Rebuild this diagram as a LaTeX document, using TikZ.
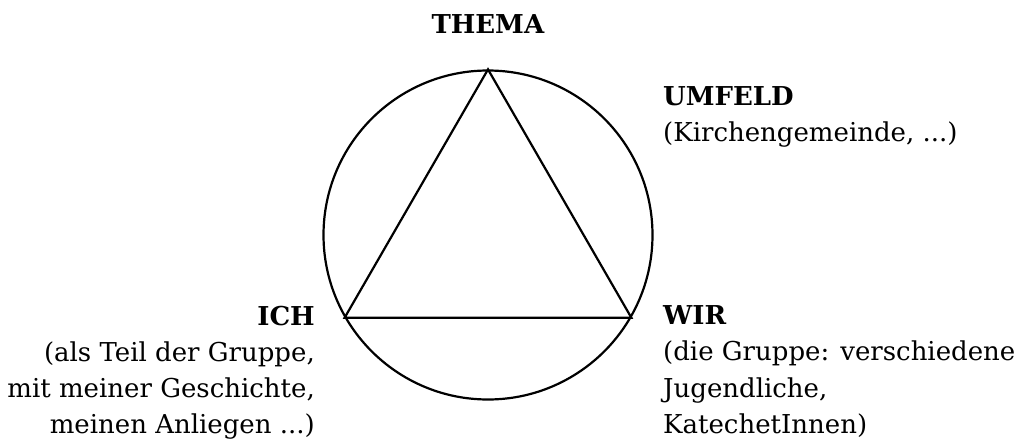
\documentclass[tikz,border=0pt]{standalone}
\usepackage{fontspec}
\setmainfont{DejaVu Serif}
\begin{document}
\begin{tikzpicture}[x=1pt,y=-1pt,
  lbl/.style={inner sep=0pt,font=\fontsize{26}{36.3}\selectfont},
  shape line/.style={line width=2.2pt,black}]
\useasboundingbox (0,0) rectangle (1020,439);
\node[shape line,draw,circle,minimum size=329pt,inner sep=0pt] (circ) at (488,235) {};
\coordinate (top) at (circ.90);
\coordinate (bl) at (circ.210);
\coordinate (br) at (circ.330);
\draw[shape line,line join=miter] (top) -- (bl) -- (br) -- cycle;
\node[lbl,anchor=base] (thema) at (488,33) {\textbf{THEMA}};
\node[lbl,anchor=north west,align=left] (umfeld) at (663,86) {\textbf{UMFELD}\\(Kirchengemeinde, ...)};
\node[lbl,anchor=north east,align=right] (ich) at (315,305.5) {\textbf{ICH}\\(als Teil der Gruppe,\\mit meiner Geschichte,\\meinen Anliegen ...)};
\node[lbl,anchor=north west,align=left] (wir) at (663,305.5) {\textbf{WIR}\\(die Gruppe: verschiedene\\Jugendliche,\\KatechetInnen)};
\end{tikzpicture}
\end{document}
